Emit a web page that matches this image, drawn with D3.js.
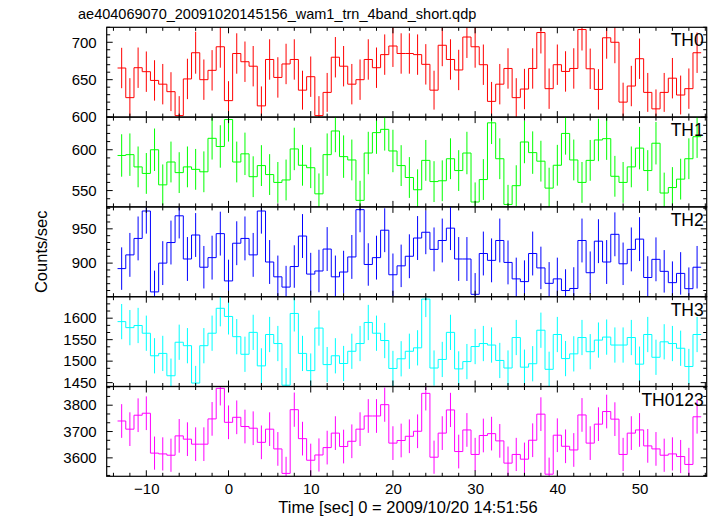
<!DOCTYPE html>
<html><head><meta charset="utf-8">
<script src="https://cdn.jsdelivr.net/npm/d3@7"></script>
<style>
body{margin:0;background:#fff}
svg{display:block}
text{font-family:"Liberation Sans",Arial,Helvetica,sans-serif;fill:#000}
</style>
</head><body>
<svg id="chart" width="717" height="516"></svg>
<script>
// ---------- data ----------
const title = "ae404069070_20091020145156_wam1_trn_4band_short.qdp";
const xTitle = "Time [sec] 0 = 2009/10/20 14:51:56";
const yTitle = "Counts/sec";
const timeBins = d3.range(-13, 58);           // 1-s bin centres
const xTickLabels = [-10, 0, 10, 20, 30, 40, 50];
const bandNames = ["TH0", "TH1", "TH2", "TH3", "TH0123"];
const bandColors = ["#ff0000", "#00ff00", "#0000ff", "#00ffff", "#ff00ff"];

const th0 = [665.6,626,666,660.7,649,644,634,602,651,686,650,662.5,694,622,685,674,668,615,677,653,671,677,636,654,602,633,680,668,644,650,677,666,683.5,695,685,685,
  683.5,670.5,636,696,677,663,707,694,670,621,644,665,626,637.5,665,713,638,670,661,665,717,664.6,637,706,700,620,641.5,678,633,611,633,652,629.5,638,686];
const th0Err = [27,26,27,27,27,27,26,26,27,28,27,27,28,26,27,27,27,26,27,27,27,27,26,27,26,26,27,27,27,27,27,27,27,28,27,27,
  27,27,26,28,27,27,28,28,27,26,27,27,26,27,27,28,27,27,27,27,28,27,27,28,28,26,27,27,26,26,26,27,26,27,27];

const th1 = [593,594,579,571,600,557,585,572,579,576,573,614,604,637,585,595,567,580.6,569.6,560,563,601,581,578,546,594,623,591.6,587.5,538,596,621,625,598.5,580.6,566,
  551,587,561,562,589,574.5,596,536,563.5,633,589,533,556,609.5,596.5,586,553,581,620,587.5,560,587,612,613.6,567.5,560,579,602,574.5,608,547,553.7,564,589,616];
const th1Err = [26,26,25,25,26,25,25,25,25,25,25,26,26,27,25,26,25,25,25,25,25,26,25,25,25,26,26,26,25,24,26,26,26,26,25,25,
  25,25,25,25,25,25,26,24,25,26,25,24,25,26,26,25,25,25,26,25,25,25,26,26,25,25,25,26,25,26,25,25,25,25,26];

const th2 = [892,912,936,976,858,900,930,969,906,941,894,908,943,874,929,936,912,976,901.6,880,865,895,939.5,884,888.5,920.5,880,887,909,978,898,908,948,883,896,910,
  936.6,945,920,933,951,906,906,854.5,914,904,933,901,877,873,914,893,870.5,877,860,863,933,886,932,901.6,942,899,920,935,879,905.5,888,871.5,885,862.7,894];
const th2Err = [31,32,32,33,31,32,32,33,32,32,31,32,32,31,32,32,32,33,32,31,31,31,32,31,31,32,31,31,32,33,31,32,32,31,31,32,
  32,32,32,32,32,32,32,31,32,32,32,32,31,31,32,31,31,31,31,31,32,31,32,32,32,31,32,32,31,32,31,31,31,31,31];

const th3 = [1592,1578,1583,1565,1512.5,1518,1466,1544,1536,1449,1536,1565,1623,1604,1557,1516,1567,1489,1562,1541,1444,1611,1518,1478,1577,1492,1512.5,1494.5,1523,1541,1590,1565,1548,1483,1505.5,1523,
  1531,1644.5,1484,1504,1567,1482,1499,1534,1541,1537.5,1501.6,1484,1555,1486,1494,1572,1481,1562,1506,1517,1555,1522,1549,1556,1537.5,1537.5,1555,1493,1562,1509,1545,1541,1530,1487.5,1562];
const th3Err = [41,41,41,41,41,41,40,41,41,40,41,41,42,42,41,41,41,41,41,41,40,42,41,40,41,41,41,41,41,41,41,41,41,41,41,41,
  41,42,41,41,41,41,41,41,41,41,41,41,41,41,41,41,41,41,41,41,41,41,41,41,41,41,41,41,41,41,41,41,41,41,41];

const th0123 = [3740,3709,3762,3769.5,3618,3615,3610,3683.5,3671,3652,3652,3748,3864,3735,3754,3719,3712.6,3659,3709,3634,3541,3783,3673,3591,3611,3639,3694,3643,3663,3709,3759,3759,3802,3656,3666,3682,
  3701,3845,3602.5,3694,3782,3624,3706,3613,3685,3692,3664.5,3580,3613,3595,3667,3766,3538,3686,3644,3630,3763,3656,3728,3776,3747,3613,3694,3706,3645.5,3634,3610,3615,3605,3575,3756];
const th0123Err = [64,64,64,64,63,63,63,64,64,64,64,64,65,64,64,64,64,64,64,64,63,65,64,63,63,64,64,64,64,64,64,64,65,64,64,64,
  64,65,63,64,65,64,64,63,64,64,64,63,63,63,64,64,63,64,64,64,64,64,64,64,64,63,64,64,64,64,63,63,63,63,64];

const yDomains = [[600, 720], [530, 640], [851, 982], [1441, 1650], [3530, 3871]];
const yTickLabels = [[600, 650, 700], [550, 600], [900, 950], [1450, 1500, 1550, 1600], [3600, 3700, 3800]];
const yMinorSteps = [10, 10, 10, 50 / 3, 100 / 3];

const series = [th0, th1, th2, th3, th0123];
const errors = [th0Err, th1Err, th2Err, th3Err, th0123Err];

// ---------- layout ----------
const left = 106.7, right = 706.7, top0 = 27.3, panelH = 89.8;
const svg = d3.select("#chart");
const x = d3.scaleLinear().domain([-14.82, 58.17]).range([left, right]);

svg.append("text").attr("x", 78).attr("y", 19).attr("font-size", 14.5).text(title);

const majorLen = 6, minorLen = 3.5;

series.forEach((vals, i) => {
  const y0 = top0 + i * panelH, y1 = y0 + panelH;
  const y = d3.scaleLinear().domain(yDomains[i]).range([y1, y0]);
  const g = svg.append("g");
  const clipId = "clip" + i;
  svg.append("clipPath").attr("id", clipId).append("rect")
    .attr("x", left).attr("y", y0).attr("width", right - left).attr("height", panelH);

  const data = timeBins.map((t, k) => ({t, v: vals[k], e: errors[i][k]}));
  const pg = g.append("g").attr("clip-path", `url(#${clipId})`);
  // error bars
  pg.selectAll("line.err").data(data).join("line")
    .attr("x1", d => x(d.t)).attr("x2", d => x(d.t))
    .attr("y1", d => y(d.v - d.e)).attr("y2", d => y(d.v + d.e))
    .attr("stroke", bandColors[i]).attr("stroke-width", 1);
  // step histogram
  const pts = data.map(d => [d.t - 0.5, d.v]);
  pts.push([data[data.length - 1].t + 0.5, data[data.length - 1].v]);
  const line = d3.line().x(d => x(d[0])).y(d => y(d[1])).curve(d3.curveStepAfter);
  pg.append("path").attr("d", line(pts)).attr("fill", "none")
    .attr("stroke", bandColors[i]).attr("stroke-width", 1);

  // ticks: x on top and bottom
  const xMinor = d3.range(-14, 59, 2);
  xMinor.forEach(t => {
    const len = (t % 10 === 0) ? majorLen : minorLen;
    g.append("line").attr("x1", x(t)).attr("x2", x(t)).attr("y1", y1).attr("y2", y1 - len).attr("stroke", "#000");
    g.append("line").attr("x1", x(t)).attr("x2", x(t)).attr("y1", y0).attr("y2", y0 + len).attr("stroke", "#000");
  });
  // y ticks left/right
  const [d0, d1] = yDomains[i];
  const step = yMinorSteps[i];
  const majorStep = yTickLabels[i][1] - yTickLabels[i][0];
  const base = yTickLabels[i][0];
  for (let n = Math.ceil((d0 - base) / step); base + n * step <= d1 + 1e-6; n++) {
    const v = base + n * step;
    const isMajor = Math.abs(((v - base) / majorStep) - Math.round((v - base) / majorStep)) < 1e-6;
    const len = isMajor ? majorLen : minorLen;
    g.append("line").attr("x1", left).attr("x2", left + len).attr("y1", y(v)).attr("y2", y(v)).attr("stroke", "#000");
    g.append("line").attr("x1", right).attr("x2", right - len).attr("y1", y(v)).attr("y2", y(v)).attr("stroke", "#000");
  }
  yTickLabels[i].forEach(v => {
    g.append("text").attr("x", left - 10).attr("y", y(v)).attr("dy", "0.35em")
      .attr("text-anchor", "end").attr("font-size", 15).text(v);
  });
  // frame
  g.append("rect").attr("x", left).attr("y", y0).attr("width", right - left).attr("height", panelH)
    .attr("fill", "none").attr("stroke", "#000").attr("stroke-width", 1.2);
  // band name
  g.append("text").attr("x", right - 3).attr("y", y0 + 19).attr("text-anchor", "end")
    .attr("font-size", 17.5).text(bandNames[i]);
});

const bottom = top0 + 5 * panelH;
const xAxis = d3.axisBottom(x).tickValues(xTickLabels).tickSize(0).tickPadding(7);
const ax = svg.append("g").attr("transform", `translate(0,${bottom})`).call(xAxis);
ax.select(".domain").remove();
ax.selectAll("text").attr("font-size", 15).attr("font-family", "'Liberation Sans',Arial,sans-serif").attr("fill", "#000");

svg.append("text").attr("x", 408).attr("y", 513).attr("text-anchor", "middle")
  .attr("font-size", 16.5).text(xTitle);
svg.append("text").attr("transform", `translate(47,${(top0 + bottom) / 2}) rotate(-90)`)
  .attr("text-anchor", "middle").attr("font-size", 16.5).text(yTitle);
</script>
</body></html>
